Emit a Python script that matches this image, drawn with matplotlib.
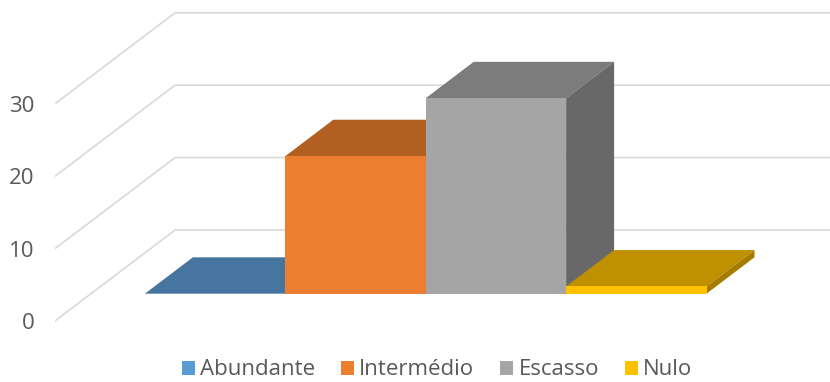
import matplotlib
matplotlib.use("Agg")
import matplotlib.pyplot as plt
from matplotlib.patches import Polygon, Patch

categories = ["Abundante", "Intermédio", "Escasso", "Nulo"]
values = [0, 19, 27, 1]
y_ticks = [0, 10, 20, 30]
grid_values = [0, 10, 20, 30]
front_colors = ["#5B9BD5", "#ED7D31", "#A5A5A5", "#FFC000"]
top_colors = ["#4675A0", "#B26021", "#7C7C7C", "#BF9000"]
side_colors = ["#3E6890", "#8E4D1B", "#686868", "#A67C00"]

W, H = 830, 382
plt.rcParams["font.family"] = ["Open Sans", "DejaVu Sans"]
fig = plt.figure(figsize=(W / 100, H / 100), dpi=100)
ax = fig.add_axes([55 / W, 0, (W - 55) / W, 1])

PX_X = 140.4   # pixels per category
PX_Y = 7.24    # pixels per value unit
DEPTH_X = 120 / PX_X
DEPTH_Y = 91 / PX_Y
x_left = -0.5 - (108.9 - 55) / PX_X
ax.set_xlim(x_left, x_left + (W - 55) / PX_X)
ax.set_ylim(-(H - 321) / PX_Y, 321 / PX_Y)


def shift(x, y, d):
    return (x + d * DEPTH_X, y + d * DEPTH_Y)


for v in grid_values:
    p0 = (x_left, v)
    p1 = shift(x_left, v, 1)
    p2 = (ax.get_xlim()[1], p1[1])
    ax.plot(*zip(p0, p1, p2), color="#D9D9D9", lw=1.2, zorder=1, solid_joinstyle="miter")

D0, D1 = 0.3, 0.7
for i, (val, fc, tc, sc) in enumerate(zip(values, front_colors, top_colors, side_colors)):
    xa, xb = i - 0.5, i + 0.5
    z = 2 + i
    if val > 0:
        ax.add_patch(Polygon([shift(xa, 0, D0), shift(xb, 0, D0), shift(xb, val, D0), shift(xa, val, D0)],
                             fc=fc, ec="none", zorder=z + 0.2))
        ax.add_patch(Polygon([shift(xb, 0, D0), shift(xb, 0, D1), shift(xb, val, D1), shift(xb, val, D0)],
                             fc=sc, ec="none", zorder=z + 0.1))
    ax.add_patch(Polygon([shift(xa, val, D0), shift(xb, val, D0), shift(xb, val, D1), shift(xa, val, D1)],
                         fc=tc, ec="none", zorder=z))

ax.set_yticks(y_ticks)
ax.set_yticklabels([str(t) for t in y_ticks], fontsize=16, color="#595959")
ax.tick_params(axis="y", length=0, pad=15)
ax.set_xticks([])
for s in ax.spines.values():
    s.set_visible(False)
ax.patch.set_visible(False)

handles = [Patch(fc=c, ec="none", label=l) for c, l in zip(front_colors, categories)]
fig.legend(handles=handles, ncol=4, loc="lower center", bbox_to_anchor=(437 / W, -14 / H),
           frameon=False, fontsize=16, labelcolor="#595959",
           handlelength=0.585, handleheight=0.585, handletextpad=0.25, columnspacing=1.15,
           borderpad=0.2)

fig.savefig("out.png", dpi=100)
